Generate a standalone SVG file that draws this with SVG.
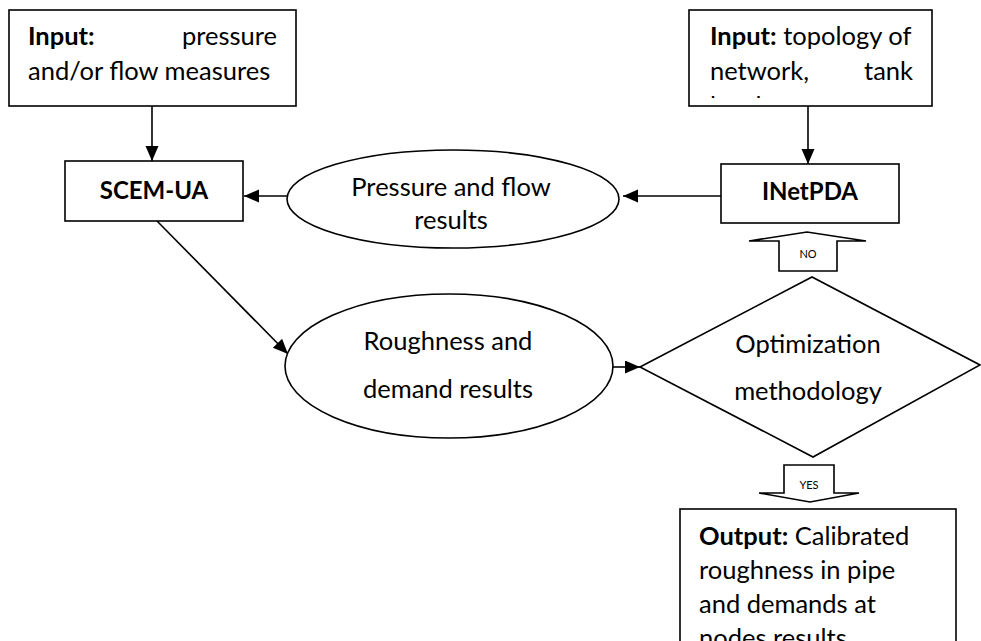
<svg xmlns="http://www.w3.org/2000/svg" width="981" height="641" viewBox="0 0 981 641">
  <style>
    .shape { fill: #ffffff; stroke: #000000; stroke-width: 1.6; }
    .link { fill: none; stroke: #000000; stroke-width: 1.6; }
    .txt { font-family: Lato, "Liberation Sans", sans-serif; font-size: 25.5px; fill: #000000; }
    .b { font-weight: bold; }
    .title { font-size: 24px; }
    .mid { text-anchor: middle; }
    .end { text-anchor: end; }
    .small { font-family: Lato, "Liberation Sans", sans-serif; font-size: 11px; fill: #000000; text-anchor: middle; }
  </style>
  <defs>
    <marker id="arrow" markerUnits="userSpaceOnUse" markerWidth="16" markerHeight="14" refX="15" refY="6.5" orient="auto">
      <path d="M0,0 L15,6.5 L0,13 Z" fill="#000000"/>
    </marker>
    <clipPath id="clipTopo"><rect x="689" y="10" width="243" height="88"/></clipPath>
    <clipPath id="clipOpt"><rect x="640" y="260" width="341" height="144"/></clipPath>
  </defs>

  <rect width="981" height="641" fill="#ffffff"/>

  <!-- connectors -->
  <g id="connectors">
    <line class="link" x1="152" y1="106" x2="152" y2="161" marker-end="url(#arrow)"/>
    <line class="link" x1="808" y1="106" x2="808" y2="164" marker-end="url(#arrow)"/>
    <line class="link" x1="287" y1="196" x2="244" y2="196" marker-end="url(#arrow)"/>
    <line class="link" x1="721" y1="196" x2="623" y2="196" marker-end="url(#arrow)"/>
    <line class="link" x1="157" y1="221" x2="288" y2="354" marker-end="url(#arrow)"/>
    <line class="link" x1="613" y1="367" x2="640" y2="367" marker-end="url(#arrow)"/>
  </g>

  <!-- input: measurements -->
  <g id="input-measures">
    <rect class="shape" x="9" y="10" width="287" height="96"/>
    <text class="txt b" x="28" y="45">Input:</text>
    <text class="txt end" x="277" y="45">pressure</text>
    <text class="txt" x="28" y="80">and/or flow measures</text>
  </g>

  <!-- input: network topology (third line hidden by the box edge) -->
  <g id="input-topology">
    <rect class="shape" x="689" y="10" width="243" height="96"/>
    <g clip-path="url(#clipTopo)">
      <text class="txt" x="710" y="45"><tspan class="b">Input:</tspan> topology of</text>
      <text class="txt" x="710" y="80">network,</text>
      <text class="txt end" x="913" y="80">tank</text>
      <text class="txt" x="710" y="115">levels</text>
    </g>
  </g>

  <!-- SCEM-UA -->
  <g id="scem-ua">
    <rect class="shape" x="65" y="161" width="178" height="60"/>
    <text class="txt b title mid" x="154" y="199">SCEM-UA</text>
  </g>

  <!-- pressure and flow results -->
  <g id="pressure-flow">
    <ellipse class="shape" cx="453" cy="199" rx="166" ry="49"/>
    <text class="txt mid" x="451" y="196">Pressure and flow</text>
    <text class="txt mid" x="451" y="229">results</text>
  </g>

  <!-- INetPDA -->
  <g id="inetpda">
    <rect class="shape" x="721" y="164" width="178" height="59"/>
    <text class="txt b title mid" x="810" y="200">INetPDA</text>
  </g>

  <!-- roughness and demand results -->
  <g id="roughness-demand">
    <ellipse class="shape" cx="449" cy="366" rx="164" ry="72"/>
    <text class="txt mid" x="448" y="350">Roughness and</text>
    <text class="txt mid" x="448" y="398">demand results</text>
  </g>

  <!-- optimization decision -->
  <g id="optimization">
    <polygon class="shape" points="640,367 812,277 980,365 813,457"/>
    <g clip-path="url(#clipOpt)">
      <text class="txt mid" x="808" y="353">Optimization</text>
      <text class="txt mid" x="808" y="400">methodology</text>
    </g>
  </g>

  <!-- NO: back to INetPDA -->
  <g id="no-arrow">
    <polygon class="shape" points="779,271 779,241 749,241 807,232 866,241 837,241 837,271"/>
    <text class="small" x="808" y="258">NO</text>
  </g>

  <!-- YES: to output -->
  <g id="yes-arrow">
    <polygon class="shape" points="784,465 834,465 834,493 859,493 810,502 759,493 784,493"/>
    <text class="small" x="809" y="489">YES</text>
  </g>

  <!-- output -->
  <g id="output">
    <rect class="shape" x="680" y="509" width="276" height="150"/>
    <text class="txt" x="699" y="545"><tspan class="b">Output:</tspan> Calibrated</text>
    <text class="txt" x="699" y="579">roughness in pipe</text>
    <text class="txt" x="699" y="613">and demands at</text>
    <text class="txt" x="699" y="647">nodes results</text>
  </g>
</svg>
